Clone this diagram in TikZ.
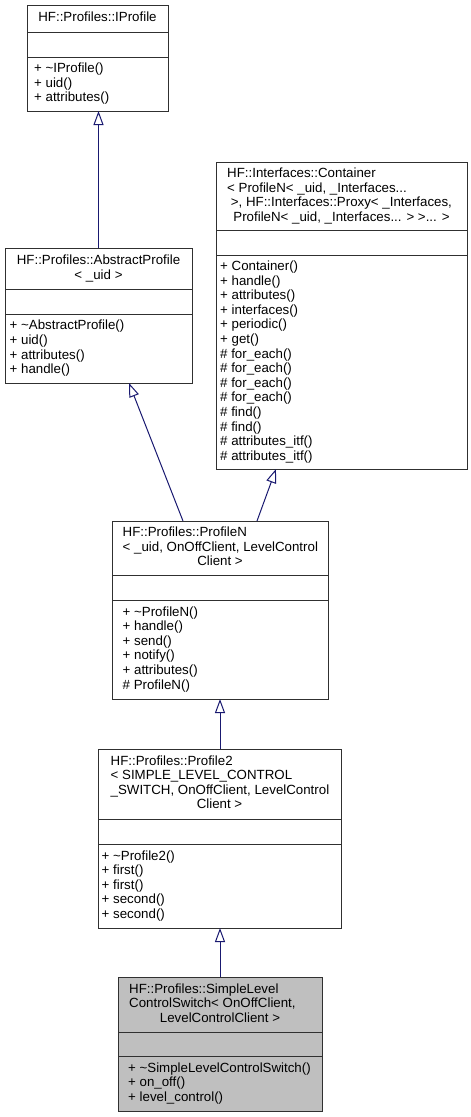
\documentclass[tikz,border=0pt]{standalone}
\usepackage{fontspec}
\setmainfont{Liberation Sans}
\usetikzlibrary{arrows.meta}
\definecolor{edgeblue}{HTML}{191970}
\definecolor{boxline}{HTML}{303030}
\definecolor{curfill}{HTML}{BFBFBF}
\begin{document}
\begin{tikzpicture}[x=1pt,y=-1pt,
  box/.style={draw=boxline, line width=1pt, fill=white, inner sep=0pt, outer sep=0pt},
  sepline/.style={draw=boxline, line width=1pt},
  txt/.style={font=\fontsize{13.3}{14.6}\selectfont, inner sep=0pt, anchor=base west},
  txtc/.style={font=\fontsize{13.3}{14.6}\selectfont, inner sep=0pt, anchor=base},
  inh/.style={draw=edgeblue, line width=1pt, -{Triangle[open,length=14pt,width=10pt,line width=1pt]}}]
\useasboundingbox (0,0) rectangle (471,1117);

% ---------- IProfile ----------
\node[box, minimum width=141pt, minimum height=106pt] (ip) at (97.5,58) {};
\draw[sepline] (ip.west |- 0,32) -- (ip.east |- 0,32);
\draw[sepline] (ip.west |- 0,57) -- (ip.east |- 0,57);
\node[txtc] (ipt1) at (97.5,21.8) {HF::Profiles::IProfile};
\foreach \t [count=\i] in {+ \textasciitilde IProfile(), + uid(), + attributes()}
  \node[txt] (ipm\i) at (34,{72.7+(\i-1)*14.6}) {\t};

% ---------- AbstractProfile ----------
\node[box, minimum width=187pt, minimum height=135pt] (ap) at (98.5,315.5) {};
\draw[sepline] (ap.west |- 0,289) -- (ap.east |- 0,289);
\draw[sepline] (ap.west |- 0,314) -- (ap.east |- 0,314);
\node[txtc] (apt1) at (98.5,264.5) {HF::Profiles::AbstractProfile};
\node[txtc] (apt2) at (98.5,279.1) {< \_uid >};
\foreach \t [count=\i] in {+ \textasciitilde AbstractProfile(), + uid(), + attributes(), + handle()}
  \node[txt] (apm\i) at (9.5,{329.9+(\i-1)*14.6}) {\t};

% ---------- Container ----------
\node[box, minimum width=251pt, minimum height=307pt] (ct) at (341.5,315.5) {};
\draw[sepline] (ct.west |- 0,230) -- (ct.east |- 0,230);
\draw[sepline] (ct.west |- 0,255) -- (ct.east |- 0,255);
\node[txt] (ctt1) at (227,177.4) {HF::Interfaces::Container};
\node[txt] (ctt2) at (227,192.0) {< ProfileN< \_uid, \_Interfaces...};
\node[txt] (ctt3) at (227,206.6) {\ >, HF::Interfaces::Proxy< \_Interfaces,};
\node[txtc] (ctt4) at (341.5,221.2) {ProfileN< \_uid, \_Interfaces... > >... >};
\foreach \t [count=\i] in {+ Container(), + handle(), + attributes(), + interfaces(), + periodic(), + get(),
   \# for\_each(), \# for\_each(), \# for\_each(), \# for\_each(), \# find(), \# find(),
   \# attributes\_itf(), \# attributes\_itf()}
  \node[txt] (ctm\i) at (220,{270.4+(\i-1)*14.6}) {\t};

% ---------- ProfileN ----------
\node[box, minimum width=216pt, minimum height=178pt] (pn) at (220,610) {};
\draw[sepline] (pn.west |- 0,575) -- (pn.east |- 0,575);
\draw[sepline] (pn.west |- 0,600) -- (pn.east |- 0,600);
\node[txt] (pnt1) at (122.5,536.7) {HF::Profiles::ProfileN};
\node[txt] (pnt2) at (122.5,551.3) {< \_uid, OnOffClient, LevelControl};
\node[txtc] (pnt3) at (220,565.9) {Client >};
\foreach \t [count=\i] in {+ \textasciitilde ProfileN(), + handle(), + send(), + notify(), + attributes(), \# ProfileN()}
  \node[txt] (pnm\i) at (122.5,{616.0+(\i-1)*14.6}) {\t};

% ---------- Profile2 ----------
\node[box, minimum width=243pt, minimum height=179pt] (p2) at (219.5,838.5) {};
\draw[sepline] (p2.west |- 0,819) -- (p2.east |- 0,819);
\draw[sepline] (p2.west |- 0,844) -- (p2.east |- 0,844);
\node[txt] (p2t1) at (110.5,765.0) {HF::Profiles::Profile2};
\node[txt] (p2t2) at (110.5,779.6) {< SIMPLE\_LEVEL\_CONTROL};
\node[txt] (p2t3) at (110.5,794.2) {\_SWITCH, OnOffClient, LevelControl};
\node[txtc] (p2t4) at (219.5,808.8) {Client >};
\foreach \t [count=\i] in {+ \textasciitilde Profile2(), + first(), + first(), + second(), + second()}
  \node[txt] (p2m\i) at (101.5,{860.1+(\i-1)*14.6}) {\t};

% ---------- SimpleLevelControlSwitch ----------
\node[box, fill=curfill, minimum width=204pt, minimum height=134pt] (sl) at (220,1044) {};
\draw[sepline] (sl.west |- 0,1032) -- (sl.east |- 0,1032);
\draw[sepline] (sl.west |- 0,1056) -- (sl.east |- 0,1056);
\node[txt] (slt1) at (129,993.2) {HF::Profiles::SimpleLevel};
\node[txt] (slt2) at (129,1007.8) {ControlSwitch< OnOffClient,};
\node[txtc] (slt3) at (220,1022.4) {LevelControlClient >};
\foreach \t [count=\i] in {+ \textasciitilde SimpleLevelControlSwitch(), + on\_off(), + level\_control()}
  \node[txt] (slm\i) at (128,{1072.2+(\i-1)*14.6}) {\t};

% ---------- inheritance edges ----------
\draw[inh] (ap.north) -- (ap.north |- ip.south);
\draw[inh] ([xshift=71pt]pn.north west) -- ([xshift=124pt]ap.south west);
\draw[inh] ([xshift=145pt]pn.north west) -- ([xshift=60pt]ct.south west);
\draw[inh] (p2.north -| pn.south) -- (pn.south);
\draw[inh] (sl.north) -- (sl.north |- p2.south);
\end{tikzpicture}
\end{document}
